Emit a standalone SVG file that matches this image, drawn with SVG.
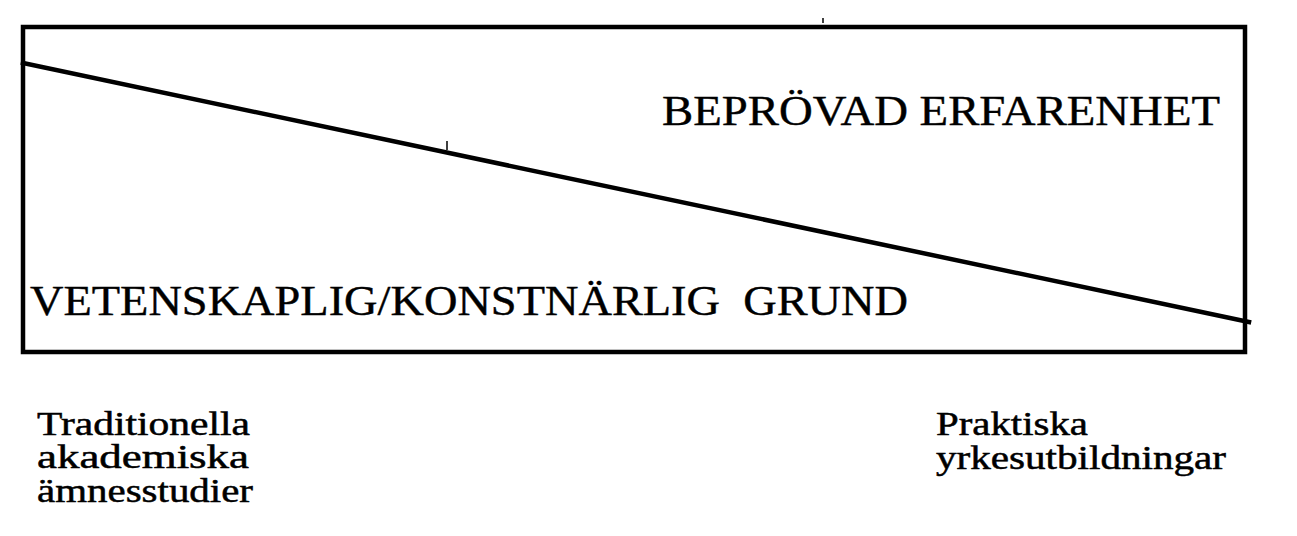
<svg xmlns="http://www.w3.org/2000/svg" width="1297" height="536" viewBox="0 0 1297 536">
<style>
.ln{fill:none;stroke:#000;stroke-width:4.5;stroke-linecap:square}
.big{font-family:"Liberation Serif","Times New Roman",serif;font-size:42px;fill:#000;stroke:#000;stroke-width:0.4}
.sm{font-family:"Liberation Serif","Times New Roman",serif;font-size:33px;fill:#000;stroke:#000;stroke-width:0.5}
</style>
<rect width="1297" height="536" fill="#fff"/>
<g id="frame">
<rect class="ln" x="23" y="27" width="1222" height="325"/>
</g>
<g id="connectors">
<line class="ln" x1="23" y1="63" x2="1249" y2="322"/>
<line x1="823" y1="18" x2="823" y2="23" stroke="#000" stroke-width="1.5"/>
<line x1="447" y1="141" x2="447" y2="150" stroke="#000" stroke-width="1.5"/>
</g>
<g id="upper">
<text class="big" x="662" y="125" textLength="558" lengthAdjust="spacingAndGlyphs">BEPRÖVAD ERFARENHET</text>
</g>
<g id="lower">
<text class="big" x="30" y="315" textLength="878" lengthAdjust="spacingAndGlyphs">VETENSKAPLIG/KONSTNÄRLIG&#160; GRUND</text>
</g>
<g id="left-label">
<text class="sm" x="37" y="435" textLength="213" lengthAdjust="spacingAndGlyphs">Traditionella</text>
<text class="sm" x="37" y="468" textLength="212" lengthAdjust="spacingAndGlyphs">akademiska</text>
<text class="sm" x="37" y="502" textLength="216" lengthAdjust="spacingAndGlyphs">ämnesstudier</text>
</g>
<g id="right-label">
<text class="sm" x="936" y="435" textLength="152" lengthAdjust="spacingAndGlyphs">Praktiska</text>
<text class="sm" x="936" y="469" textLength="290" lengthAdjust="spacingAndGlyphs">yrkesutbildningar</text>
</g>
</svg>
